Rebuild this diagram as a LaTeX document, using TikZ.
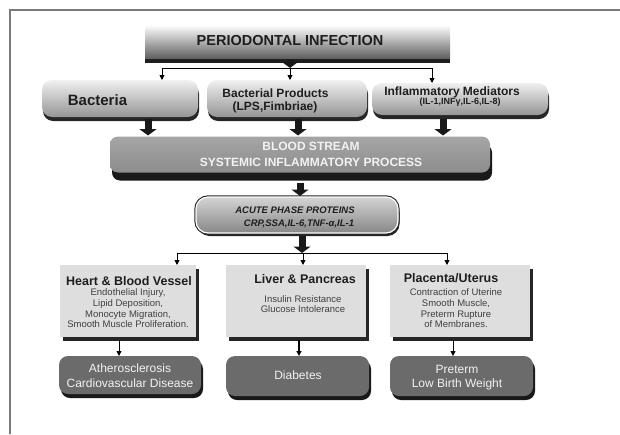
\documentclass[tikz,border=0pt]{standalone}
\usepackage{fontspec}
\setmainfont{Liberation Sans}
\usetikzlibrary{arrows.meta,shadows,calc}
\definecolor{framec}{HTML}{7A7A7A}
\definecolor{rtop}{HTML}{F0F0F0}
\definecolor{rbot}{HTML}{959595}
\definecolor{bloodc}{HTML}{8C8C8C}
\definecolor{acutetop}{HTML}{D4D4D4}
\definecolor{acutebot}{HTML}{878787}
\definecolor{lightc}{HTML}{DEDEDE}
\definecolor{darkc}{HTML}{6B6B6B}
\definecolor{txt}{HTML}{1E1E1E}
\definecolor{ltxt}{HTML}{F2F2F2}
\begin{document}
\begin{tikzpicture}[x=1pt,y=-1pt,
  shape box/.style={inner sep=0pt, outer sep=0pt},
  topbox/.style={shape box, rectangle, top color=white, bottom color=black!62,
     drop shadow={shadow xshift=0pt, shadow yshift=-5pt, fill=black!88, opacity=1}},
  rowbox/.style={shape box, rounded corners=10pt, top color=rtop, bottom color=rbot,
     drop shadow={shadow xshift=1pt, shadow yshift=-4pt, fill=black!85, opacity=1}},
  bloodbox/.style={shape box, rounded corners=8pt, top color=black!35, bottom color=bloodc,
     drop shadow={shadow xshift=2pt, shadow yshift=-8pt, fill=black!90, opacity=1}},
  acutebox/.style={shape box, rounded corners=12pt, top color=acutetop, bottom color=acutebot,
     draw=white, line width=1.2pt,
     preaction={draw=black!85, line width=3.4pt},
     drop shadow={shadow xshift=1.5pt, shadow yshift=-3pt, fill=black!85, opacity=1}},
  lightbox/.style={shape box, rectangle, fill=lightc,
     drop shadow={shadow xshift=3pt, shadow yshift=-4pt, fill=black!85, opacity=1}},
  darkbox/.style={shape box, rounded corners=9pt, fill=darkc,
     drop shadow={shadow xshift=2pt, shadow yshift=-4pt, fill=black!90, opacity=1}},
  blk/.style={line width=7pt, draw=black!90, -{Triangle[width=17pt,length=6.5pt]}},
  sarr/.style={line width=0.9pt, draw=black, -{Triangle[width=5pt,length=5pt]}},
  title/.style={text=txt, font=\bfseries\fontsize{12}{14}\selectfont, inner sep=0pt},
  title3/.style={text=txt, font=\bfseries\fontsize{12.5}{14}\selectfont, inner sep=0pt},
  body/.style={text=txt!85, align=center, font=\fontsize{9.5}{10.7}\selectfont, inner sep=0pt},
  dtxt/.style={text=ltxt, align=center, font=\fontsize{12}{14.5}\selectfont, inner sep=0pt}
]
\useasboundingbox (0,0) rectangle (620,434);
% frame
\draw[framec, line width=1.4pt] (10,434) -- (10,10) -- (620,10);

% top box
\node[topbox, minimum width=305pt, minimum height=33pt] (top) at (297.5,41.5) {};
\node[text=txt, font=\bfseries\fontsize{14.5}{16}\selectfont, inner sep=0pt] (topT) at (290,41) {PERIODONTAL INFECTION};

% row 2
\node[rowbox, minimum width=156pt, minimum height=37pt] (bact) at (120,98.5) {};
\node[rowbox, minimum width=160pt, minimum height=37pt] (prod) at (287,98.5) {};
\node[rowbox, minimum width=176pt, minimum height=32pt] (infl) at (460,99) {};
\node[title, font=\bfseries\fontsize{15}{17}\selectfont] (bactT) at (97.5,100) {Bacteria};
\node[title] (prodT1) at (275.5,93) {Bacterial Products};
\node[title] (prodT2) at (275,107) {(LPS,Fimbriae)};
\node[title, font=\bfseries\fontsize{12}{14}\selectfont] (inflT1) at (452,92) {Inflammatory Mediators};
\node[title, font=\bfseries\fontsize{9}{11}\selectfont] (inflT2) at (460,102) {(IL-1,INFγ,IL-6,IL-8)};

% distributor 1
\coordinate (h1m) at (290,68);
\coordinate (h1l) at (162,68);
\coordinate (h1r) at (432,68);
\draw[blk] ([xshift=-7.5pt,yshift=-1pt]top.south) -- (h1m);
\draw[line width=0.9pt] (h1l) -- (h1r);
\draw[sarr] (h1l) -- (h1l |- bact.north);
\draw[sarr] (h1m) -- (h1m |- prod.north);
\draw[sarr] (h1r) -- (h1r |- infl.north);

% blood stream
\node[bloodbox, minimum width=380pt, minimum height=36pt] (blood) at (300,154.5) {};
\node[text=ltxt, font=\bfseries\fontsize{12}{16}\selectfont, align=center, inner sep=0pt] (bloodT) at (311,154.5) {BLOOD STREAM\\SYSTEMIC INFLAMMATORY PROCESS};
\draw[blk] ([xshift=28pt,yshift=-2pt]bact.south) -- ([xshift=28pt,yshift=1pt]bact.south |- blood.north);
\draw[blk] ([xshift=11pt,yshift=-2pt]prod.south) -- ([xshift=11pt,yshift=1pt]prod.south |- blood.north);
\draw[blk] ([xshift=-17pt,yshift=-4pt]infl.south) -- ([xshift=-17pt,yshift=1pt]infl.south |- blood.north);

% acute phase
\node[acutebox, minimum width=202pt, minimum height=36pt] (acute) at (297,215) {};
\node[text=txt, font=\bfseries\itshape\fontsize{9.5}{12.5}\selectfont, align=center, inner sep=0pt] (acuteT) at (295,217.5) {ACUTE PHASE PROTEINS\\\hspace*{8pt}CRP,SSA,IL-6,TNF-α,IL-1};
\draw[blk] ([yshift=-10pt]blood.south) -- ([yshift=1pt]blood.south |- acute.north);

% distributor 2
\coordinate (h2m) at (303,253);
\coordinate (h2l) at (177,253);
\coordinate (h2r) at (447,253);
\draw[blk] ([xshift=5pt,yshift=-3pt]acute.south) -- ([xshift=5pt]acute.south |- h2m);
\draw[line width=0.9pt] (h2l) -- (h2r);

% row 3
\node[lightbox, minimum width=136pt, minimum height=72pt] (heart) at (128,301) {};
\node[lightbox, minimum width=140pt, minimum height=72pt] (liver) at (296,301) {};
\node[lightbox, minimum width=140pt, minimum height=72pt] (plac) at (460,301) {};
\draw[sarr] (h2l) -- (h2l |- heart.north);
\draw[sarr] (h2m) -- (h2m |- liver.north);
\draw[sarr] (h2r) -- (h2r |- plac.north);

\node[title3] (heartT) at (129,281) {Heart \& Blood Vessel};
\node[body] (heartB) at (128,308.5) {Endothelial Injury,\\Lipid Deposition,\\Monocyte Migration,\\Smooth Muscle Proliferation.};
\node[title3] (liverT) at (305,279.5) {Liver \& Pancreas};
\node[body] (liverB) at (303,304) {Insulin Resistance\\Glucose Intolerance};
\node[title3] (placT) at (451,278.5) {Placenta/Uterus};
\node[body] (placB) at (456,308.5) {Contraction of Uterine\\Smooth Muscle,\\Preterm Rupture\\of Membranes.};

% bottom boxes
\node[darkbox, minimum width=142pt, minimum height=38pt] (ath) at (130,375) {};
\node[darkbox, minimum width=143pt, minimum height=40pt] (diab) at (297.5,376) {};
\node[darkbox, minimum width=143pt, minimum height=40pt] (pret) at (461.5,376) {};
\node[dtxt] (athT) at (130,375.5) {Atherosclerosis\\Cardiovascular Disease};
\node[dtxt] (diabT) at (298,375) {Diabetes};
\node[dtxt] (pretT) at (457,377.5) {Preterm\\Low Birth Weight};

\draw[sarr] ([xshift=-9pt,yshift=-3pt]heart.south) -- ([xshift=-9pt]heart.south |- ath.north);
\draw[sarr, line width=1.6pt] ([xshift=3pt,yshift=-3pt]liver.south) -- ([xshift=3pt]liver.south |- diab.north);
\draw[sarr] ([xshift=-7pt,yshift=-3pt]plac.south) -- ([xshift=-7pt]plac.south |- pret.north);
\end{tikzpicture}
\end{document}
